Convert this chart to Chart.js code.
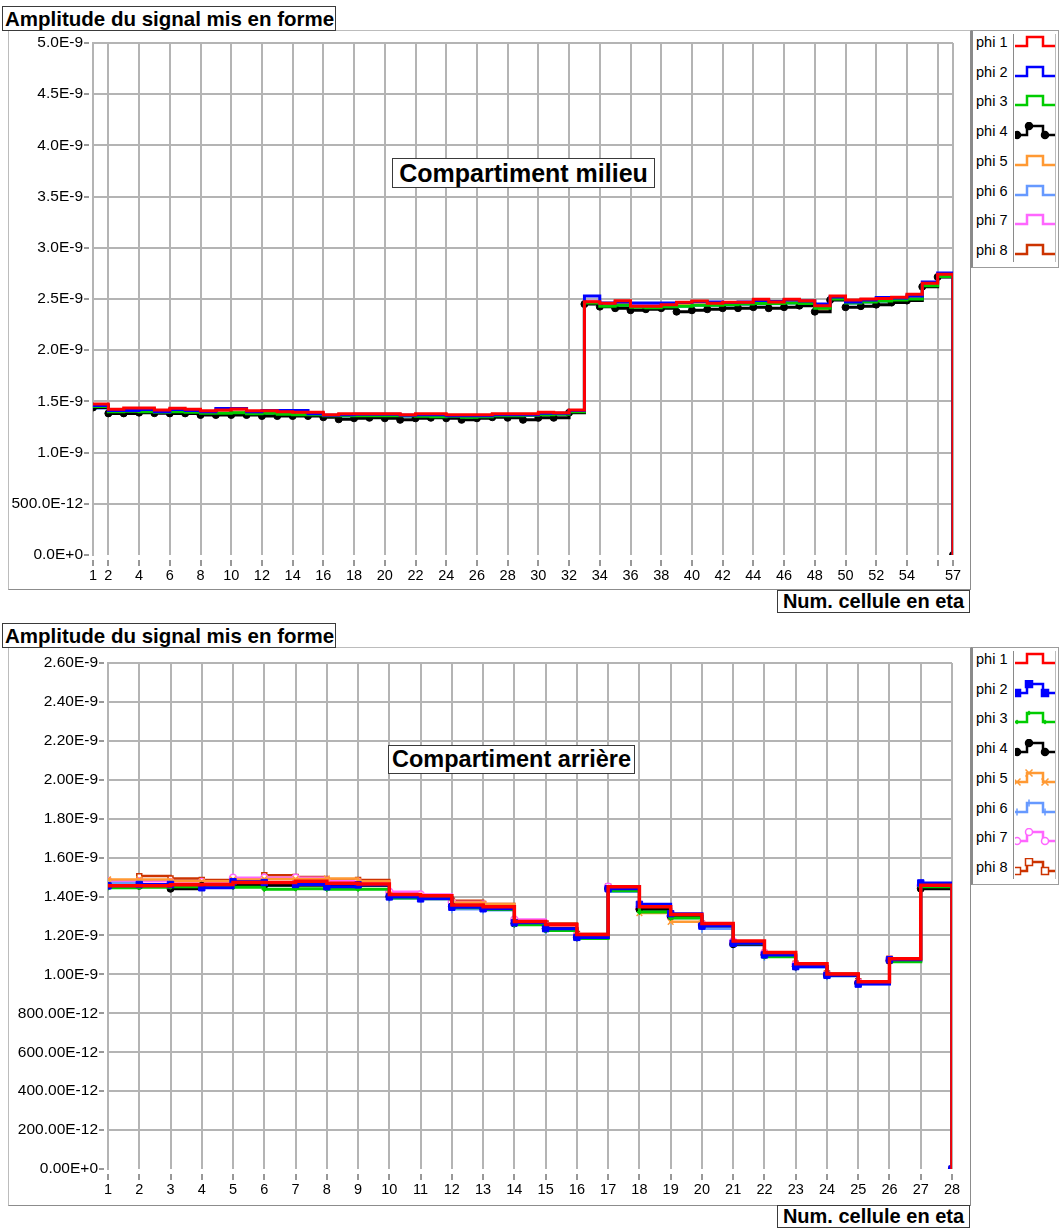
<!DOCTYPE html>
<html>
<head>
<meta charset="utf-8">
<script src="https://cdn.jsdelivr.net/npm/chart.js@4.4.1/dist/chart.umd.min.js"></script>
<style>
  body { margin:0; background:#fff; font-family:"Liberation Sans", Arial, sans-serif; }
  #page { position:relative; width:1061px; height:1228px; overflow:hidden; }
  .frame { position:absolute; border:1px solid #bcbcbc; border-right-color:#8c8c8c; border-bottom-color:#8c8c8c; }
  .box { position:absolute; border:1px solid #3a3a3a; background:#fff; font-weight:bold; color:#000;
         white-space:nowrap; box-sizing:border-box; overflow:hidden; }
  canvas { position:absolute; }
  .legend { position:absolute; border:1px solid #9c9c9c; border-left:2px solid #8a8a8a; background:#fff; box-sizing:border-box; }
  .legend .col { position:absolute; left:40px; top:3px; bottom:5px; width:41px; border-left:1px solid #8a8a8a; border-right:1px solid #bcbcbc; }
  .legend .row { position:absolute; left:3px; font-size:14.5px; color:#000; }
  .legend svg { position:absolute; left:42px; }
</style>
</head>
<body>
<div id="page">
  <div class="frame" style="left:8px;top:30px;width:961px;height:558px"></div>
  <canvas id="topChart" width="970" height="590" style="left:0;top:0"></canvas>
  <div class="box" style="left:2px;top:6px;width:334px;height:25px;font-size:20.5px;line-height:23px;padding-left:2px">Amplitude du signal mis en forme</div>
  <div class="box" style="left:392px;top:158px;width:263px;height:30px;font-size:25px;line-height:28px;text-align:center">Compartiment milieu</div>
  <div class="box" style="left:777px;top:590px;width:193px;height:23px;font-size:20px;line-height:21px;text-align:center">Num. cellule en eta</div>
  <div class="legend" id="topLegend" style="left:971px;top:30px;width:88px;height:238px"></div>

  <div class="frame" style="left:8px;top:647px;width:961px;height:557px"></div>
  <canvas id="botChart" width="970" height="586" style="left:0;top:618px"></canvas>
  <div class="box" style="left:2px;top:623px;width:334px;height:25px;font-size:20.5px;line-height:23px;padding-left:2px">Amplitude du signal mis en forme</div>
  <div class="box" style="left:388px;top:745px;width:247px;height:29px;font-size:23.5px;line-height:27px;text-align:center">Compartiment arrière</div>
  <div class="box" style="left:777px;top:1205px;width:193px;height:23px;font-size:20px;line-height:21px;text-align:center">Num. cellule en eta</div>
  <div class="legend" id="botLegend" style="left:971px;top:647px;width:88px;height:238px"></div>
</div>
<script>
// ---- data (amplitudes in units of 1E-9) ----
const seriesNames = ['phi 1','phi 2','phi 3','phi 4','phi 5','phi 6','phi 7','phi 8'];
const seriesColors = ['#ff0000','#0000ff','#00cc00','#000000','#ff9933','#6699ff','#ff66ff','#cc3300'];

// Compartiment milieu
const topCells = [1,2,3,4,5,6,7,8,9,10,11,12,13,14,15,16,17,18,19,20,21,22,23,24,25,26,27,28,29,30,
  31,32,33,34,35,36,37,38,39,40,41,42,43,44,45,46,47,48,49,50,51,52,53,54,55,56,57];
const topPhi1 = [1.475,1.423,1.436,1.436,1.416,1.432,1.423,1.409,1.416,1.426, 1.409,1.409,1.400,1.393,1.393,1.370,1.380,1.380,1.380,1.380,
  1.370,1.380,1.380,1.370,1.370,1.370,1.380,1.380,1.380,1.395, 1.390,1.416,2.474,2.458,2.483,2.430,2.430,2.444,2.468,2.480,
  2.458,2.468,2.468,2.497,2.470,2.497,2.483,2.435,2.530,2.490, 2.500,2.505,2.516,2.546,2.653,2.741,0];
const topPhi2 = [1.460,1.410,1.410,1.420,1.400,1.420,1.410,1.400,1.430,1.430, 1.400,1.410,1.410,1.410,1.380,1.365,1.370,1.375,1.375,1.375,
  1.365,1.370,1.370,1.360,1.360,1.360,1.370,1.370,1.370,1.385, 1.385,1.410,2.530,2.460,2.470,2.460,2.460,2.460,2.465,2.475,
  2.470,2.465,2.470,2.485,2.475,2.490,2.480,2.450,2.520,2.470, 2.490,2.515,2.510,2.530,2.665,2.755,0];
const topPhi3 = [1.450,1.400,1.405,1.400,1.395,1.400,1.395,1.385,1.385,1.390, 1.380,1.385,1.375,1.370,1.370,1.360,1.360,1.360,1.360,1.360,
  1.360,1.355,1.350,1.355,1.345,1.350,1.360,1.360,1.365,1.370, 1.375,1.400,2.460,2.430,2.440,2.420,2.415,2.425,2.430,2.440,
  2.440,2.445,2.450,2.455,2.455,2.460,2.455,2.410,2.500,2.460, 2.470,2.480,2.490,2.500,2.630,2.720,0];
const topPhi4 = [1.440,1.383,1.383,1.390,1.385,1.383,1.383,1.367,1.367,1.367, 1.367,1.357,1.357,1.357,1.357,1.345,1.325,1.335,1.340,1.335,
  1.320,1.335,1.340,1.335,1.320,1.335,1.345,1.340,1.320,1.340, 1.340,1.390,2.450,2.425,2.410,2.390,2.400,2.410,2.376,2.390,
  2.400,2.410,2.410,2.420,2.410,2.420,2.435,2.376,2.490,2.420, 2.430,2.445,2.467,2.485,2.620,2.715,0];
const topPhi5 = [1.450,1.400,1.400,1.410,1.390,1.400,1.400,1.390,1.390,1.400, 1.385,1.390,1.380,1.375,1.370,1.360,1.365,1.365,1.370,1.365,
  1.360,1.360,1.360,1.360,1.350,1.355,1.365,1.365,1.370,1.375, 1.380,1.400,2.470,2.440,2.450,2.420,2.430,2.430,2.440,2.445,
  2.450,2.450,2.455,2.460,2.460,2.465,2.450,2.400,2.500,2.465, 2.475,2.485,2.495,2.510,2.635,2.725,0];
const topPhi6 = [1.430,1.390,1.390,1.400,1.395,1.395,1.390,1.380,1.380,1.385, 1.380,1.375,1.370,1.365,1.360,1.355,1.355,1.350,1.355,1.355,
  1.350,1.350,1.345,1.345,1.340,1.345,1.355,1.355,1.360,1.365, 1.370,1.395,2.450,2.425,2.430,2.415,2.410,2.420,2.425,2.435,
  2.435,2.440,2.445,2.450,2.450,2.455,2.450,2.420,2.490,2.455, 2.465,2.475,2.485,2.495,2.625,2.715,0];
const topPhi7 = [1.460,1.410,1.415,1.420,1.400,1.410,1.405,1.395,1.400,1.405, 1.395,1.395,1.390,1.385,1.380,1.365,1.370,1.370,1.370,1.370,
  1.360,1.365,1.365,1.360,1.360,1.360,1.370,1.370,1.370,1.385, 1.385,1.405,2.480,2.450,2.460,2.440,2.440,2.445,2.450,2.460,
  2.455,2.460,2.460,2.475,2.465,2.480,2.470,2.430,2.515,2.480, 2.490,2.495,2.505,2.525,2.645,2.735,0];
const topPhi8 = [1.465,1.415,1.425,1.425,1.405,1.420,1.415,1.400,1.405,1.415, 1.400,1.400,1.395,1.385,1.385,1.365,1.375,1.375,1.375,1.375,
  1.365,1.370,1.370,1.365,1.365,1.365,1.375,1.375,1.375,1.390, 1.385,1.410,2.475,2.455,2.475,2.450,2.435,2.445,2.460,2.470,
  2.460,2.465,2.465,2.490,2.470,2.490,2.480,2.430,2.525,2.485, 2.495,2.500,2.510,2.540,2.650,2.740,0];
const topXTicks = [1,2,4,6,8,10,12,14,16,18,20,22,24,26,28,30,32,34,36,38,40,42,44,46,48,50,52,54,56,57];
const topXLabels = ['1','2','4','6','8','10','12','14','16','18','20','22','24','26','28','30','32','34','36','38',
  '40','42','44','46','48','50','52','54','','57'];
const topYTicks = [0,0.5,1,1.5,2,2.5,3,3.5,4,4.5,5];
const topYLabels = ['0.0E+0','500.0E-12','1.0E-9','1.5E-9','2.0E-9','2.5E-9','3.0E-9','3.5E-9','4.0E-9','4.5E-9','5.0E-9'];

// Compartiment arrière
const botCells = [1,2,3,4,5,6,7,8,9,10,11,12,13,14,15,16,17,18,19,20,21,22,23,24,25,26,27,28];
const botPhi1 = [1.455,1.455,1.460,1.462,1.472,1.472,1.478,1.468,1.465,1.410,1.404,1.357,1.347,1.272,1.256,1.205,1.450,1.347,1.308,1.262,1.171,1.112,1.055,1.002,0.962,1.080,1.458,0];
const botPhi2 = [1.455,1.462,1.462,1.445,1.476,1.472,1.462,1.450,1.460,1.398,1.388,1.345,1.337,1.265,1.235,1.190,1.440,1.360,1.312,1.248,1.160,1.100,1.040,0.995,0.950,1.075,1.470,0];
const botPhi3 = [1.445,1.448,1.450,1.450,1.448,1.438,1.440,1.438,1.438,1.393,1.388,1.343,1.333,1.255,1.225,1.185,1.430,1.320,1.290,1.250,1.160,1.090,1.040,1.000,0.955,1.065,1.450,0];
const botPhi4 = [1.455,1.455,1.440,1.455,1.460,1.458,1.458,1.458,1.458,1.400,1.395,1.350,1.340,1.262,1.235,1.190,1.440,1.335,1.300,1.250,1.155,1.100,1.040,0.995,0.955,1.070,1.440,0];
const botPhi5 = [1.488,1.488,1.478,1.478,1.488,1.490,1.490,1.493,1.478,1.410,1.400,1.370,1.362,1.270,1.240,1.200,1.440,1.315,1.270,1.250,1.160,1.100,1.040,1.000,0.955,1.070,1.450,0];
const botPhi6 = [1.470,1.460,1.462,1.460,1.465,1.455,1.460,1.455,1.455,1.390,1.388,1.335,1.330,1.258,1.225,1.190,1.425,1.335,1.290,1.235,1.150,1.090,1.035,0.990,0.950,1.065,1.460,0];
const botPhi7 = [1.478,1.478,1.475,1.475,1.497,1.497,1.497,1.478,1.475,1.425,1.410,1.372,1.358,1.282,1.250,1.200,1.450,1.340,1.300,1.258,1.170,1.110,1.050,1.000,0.960,1.075,1.455,0];
const botPhi8 = [1.480,1.505,1.493,1.485,1.482,1.510,1.500,1.482,1.485,1.410,1.405,1.378,1.362,1.278,1.262,1.208,1.450,1.340,1.300,1.260,1.165,1.110,1.055,1.005,0.965,1.080,1.455,0];
const botXTicks = botCells;
const botXLabels = ['1','2','3','4','5','6','7','8','9','10','11','12','13','14','15','16','17','18','19','20','21','22','23','24','25','26','27','28'];
const botYTicks = [0,0.2,0.4,0.6,0.8,1.0,1.2,1.4,1.6,1.8,2.0,2.2,2.4,2.6];
const botYLabels = ['0.00E+0','200.00E-12','400.00E-12','600.00E-12','800.00E-12','1.00E-9','1.20E-9','1.40E-9',
  '1.60E-9','1.80E-9','2.00E-9','2.20E-9','2.40E-9','2.60E-9'];

// ---- styles ----
const topMarks = [
  {w:3}, {w:3}, {w:3}, {w:3, style:'circle', r:3.5, fill:true}, {w:2.5}, {w:2.5}, {w:2.5}, {w:2.5}
];
const botMarks = [
  {w:3.5},
  {w:3, style:'rect', r:4.5, fill:true},
  {w:3, style:'rectRot', r:2.5, fill:true},
  {w:3, style:'circle', r:3.5, fill:true},
  {w:2.5, style:'crossRot', r:4, fill:false},
  {w:2.5, style:'line', r:4, rot:90, fill:false},
  {w:2.5, style:'circle', r:3.5, fill:false},
  {w:2.5, style:'rect', r:3.5, fill:false}
];

Chart.defaults.font.family = '"Liberation Sans", Arial, sans-serif';
Chart.defaults.font.size = 14;
Chart.defaults.color = '#000';

function makeChart(id, cells, series, marks, g) {
  const datasets = series.map((vals, i) => {
    const m = marks[i];
    return {
      label: seriesNames[i],
      data: cells.map((c, k) => ({x: c, y: vals[k]})),
      borderColor: seriesColors[i],
      borderWidth: m.w,
      stepped: true,
      fill: false,
      pointStyle: m.style || 'circle',
      pointRadius: m.style ? m.r : 0,
      pointRotation: m.rot || 0,
      pointBorderWidth: m.fill ? 1 : 1.5,
      pointBorderColor: seriesColors[i],
      pointBackgroundColor: m.fill ? seriesColors[i] : '#fff'
    };
  });
  return new Chart(document.getElementById(id), {
    type: 'line',
    data: { datasets },
    options: {
      responsive: false,
      animation: false,
      events: [],
      layout: { padding: { top: g.padTop, right: g.padRight, left: 0, bottom: 0 } },
      plugins: { legend: { display: false }, tooltip: { enabled: false } },
      scales: {
        x: {
          type: 'linear', min: g.xMin, max: g.xMax,
          afterBuildTicks: s => { s.ticks = g.xTicks.map(v => ({value: v})); },
          afterFit: s => { s.height = g.xHeight; },
          ticks: {
            autoSkip: false, maxRotation: 0, padding: 1, font: { size: 14.5 },
            callback: v => g.xLabels[g.xTicks.indexOf(v)]
          },
          grid: {
            color: c => (c.tick && c.tick.value === g.xMin) ? 'rgba(0,0,0,0)' : '#b4b4b4',
            lineWidth: 2, tickLength: 11, tickColor: '#303030', tickWidth: 1,
            tickBorderDash: [0, 5, 6, 20]
          },
          border: { display: false }
        },
        y: {
          min: 0, max: g.yMax,
          afterBuildTicks: s => { s.ticks = g.yTicks.map(v => ({value: v})); },
          afterFit: s => { s.width = g.yWidth; },
          ticks: {
            padding: 1, font: { size: 15.5 },
            callback: v => g.yLabels[g.yTicks.indexOf(v)]
          },
          grid: {
            color: c => (c.tick && c.tick.value === 0) ? 'rgba(0,0,0,0)' : '#b4b4b4',
            lineWidth: 2, tickLength: 9, tickColor: '#303030', tickWidth: 1,
            tickBorderDash: [5, 10]
          },
          border: { display: true, color: '#b4b4b4', width: 2 }
        }
      }
    }
  });
}

makeChart('topChart', topCells,
  [topPhi1, topPhi2, topPhi3, topPhi4, topPhi5, topPhi6, topPhi7, topPhi8], topMarks,
  { padTop: 43, padRight: 17, yWidth: 93, xHeight: 35, xMin: 1, xMax: 57, yMax: 5,
    xTicks: topXTicks, xLabels: topXLabels, yTicks: topYTicks, yLabels: topYLabels });

makeChart('botChart', botCells,
  [botPhi1, botPhi2, botPhi3, botPhi4, botPhi5, botPhi6, botPhi7, botPhi8], botMarks,
  { padTop: 45, padRight: 18, yWidth: 108, xHeight: 35, xMin: 1, xMax: 28, yMax: 2.6,
    xTicks: botXTicks, xLabels: botXLabels, yTicks: botYTicks, yLabels: botYLabels });

// ---- legends ----
function markerSvg(m, color, x, y) {
  if (!m.style) return '';
  const f = m.fill ? color : '#fff';
  const r = Math.min(m.r, 3.5);
  switch (m.style) {
    case 'circle': return `<circle cx="${x}" cy="${y}" r="${r}" fill="${f}" stroke="${color}" stroke-width="1.5"/>`;
    case 'rect': return `<rect x="${x-r}" y="${y-r}" width="${2*r}" height="${2*r}" fill="${f}" stroke="${color}" stroke-width="1.5"/>`;
    case 'rectRot': return `<path d="M${x} ${y-r}L${x+r} ${y}L${x} ${y+r}L${x-r} ${y}Z" fill="${color}"/>`;
    case 'crossRot': return `<path d="M${x-r} ${y-r}L${x+r} ${y+r}M${x-r} ${y+r}L${x+r} ${y-r}" stroke="${color}" stroke-width="1.5"/>`;
    case 'line': return `<path d="M${x} ${y-r}L${x} ${y+r}" stroke="${color}" stroke-width="1.5"/>`;
  }
  return '';
}
function buildLegend(id, marks) {
  const el = document.getElementById(id);
  let html = '<div class="col"></div>';
  seriesNames.forEach((name, i) => {
    const top = 3 + i * 29.7;
    const c = seriesColors[i], m = marks[i];
    html += `<div class="row" style="top:${top}px">${name}</div>`;
    html += `<svg width="40" height="20" style="top:${top - 1}px">` +
      `<polyline points="0,13 12,13 12,4 28,4 28,13 40,13" fill="none" stroke="${c}" stroke-width="2.5"/>` +
      markerSvg(m, c, 2, 13) + markerSvg(m, c, 14, 4) + markerSvg(m, c, 30, 13) + '</svg>';
  });
  el.innerHTML = html;
}
buildLegend('topLegend', topMarks);
buildLegend('botLegend', botMarks);
</script>
</body>
</html>
